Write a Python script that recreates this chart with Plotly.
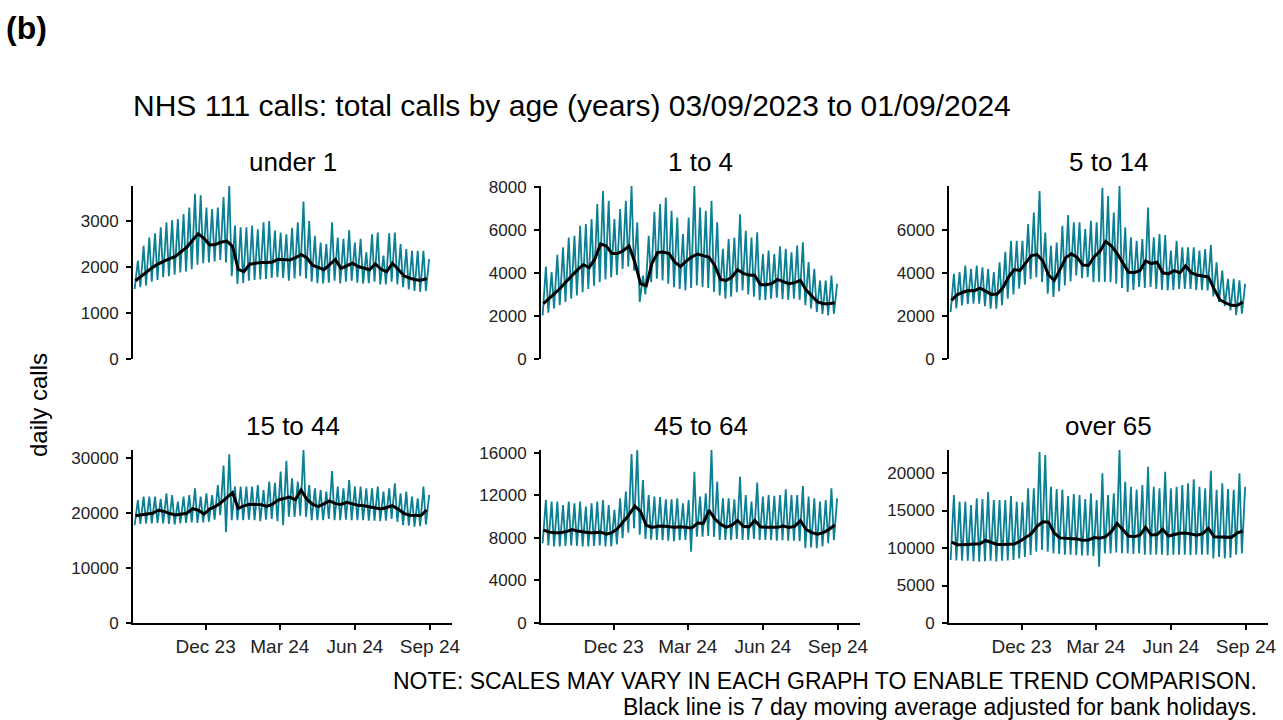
import pandas as pd
import plotly.graph_objects as go

# ---- dates (weekly anchor points across 03/09/2023 to 01/09/2024) ----
trough_dates = pd.date_range("2023-09-05", periods=52, freq="7D")   # mid-week lows
peak_dates = pd.date_range("2023-09-09", periods=52, freq="7D")     # weekend highs
ma_dates = pd.date_range("2023-09-06", periods=52, freq="7D")       # 7-day average

panel_titles = ["under 1", "1 to 4", "5 to 14", "15 to 44", "45 to 64", "over 65"]
x_tick_dates = ["2023-12-01", "2024-03-01", "2024-06-01", "2024-09-01"]
x_tick_text = ["Dec 23", "Mar 24", "Jun 24", "Sep 24"]

# ---- under 1 ----
under1_peak = [2140, 2460, 2640, 2730, 2860, 2970, 3020, 3040, 3150, 3290,
               3590, 3560, 3290, 3260, 3290, 3520, 3760, 2900, 2860, 2860,
               2900, 2820, 2970, 3000, 2790, 2750, 2710, 2850, 2970, 3420,
               3000, 2680, 2530, 2500, 2970, 2640, 2610, 2800, 2530, 2610,
               2320, 2710, 2750, 2250, 2730, 2750, 2500, 2390, 2350, 2350,
               2350, 2170]
under1_trough = [1520, 1560, 1600, 1680, 1720, 1780, 1800, 1830, 1880, 1900,
                 1950, 2050, 2080, 2100, 2120, 2150, 2100, 1800, 1630, 1650,
                 1700, 1720, 1730, 1740, 1760, 1780, 1760, 1700, 1750, 1800,
                 1750, 1680, 1650, 1640, 1660, 1700, 1640, 1680, 1700, 1660,
                 1640, 1650, 1680, 1620, 1620, 1680, 1620, 1560, 1510, 1480,
                 1460, 1480]
under1_ma = [1700, 1800, 1890, 1990, 2070, 2130, 2180, 2230, 2330, 2430,
             2580, 2720, 2620, 2480, 2490, 2540, 2560, 2450, 1950, 1900,
             2060, 2080, 2100, 2100, 2110, 2170, 2160, 2150, 2200, 2270,
             2200, 2040, 1990, 1940, 2050, 2160, 1970, 2030, 2080, 2010,
             1970, 1940, 2070, 1950, 1900, 2080, 1950, 1810, 1760, 1720,
             1710, 1750]

# ---- 1 to 4 ----
age1_4_peak = [4300, 4040, 4840, 5190, 5650, 5730, 6190, 6270, 6500, 7200,
               7810, 7350, 6500, 6970, 7350, 8040, 6350, 3880, 5730, 6840,
               7200, 7500, 6890, 6580, 5810, 6580, 8040, 7040, 6890, 7350,
               6350, 5120, 5580, 5650, 6730, 5960, 5650, 5890, 4880, 5040,
               4880, 5240, 5120, 4960, 5270, 5420, 4500, 4190, 3650, 3650,
               3880, 3500]
age1_4_trough = [2030, 2150, 2350, 2500, 2650, 2800, 2950, 3100, 3250, 3400,
                 3570, 3700, 3800, 3900, 4190, 4300, 4100, 2650, 3000, 3570,
                 3730, 3650, 3500, 3340, 3250, 3190, 3300, 3420, 3350, 3300,
                 3110, 2950, 2800, 2900, 3100, 3190, 3000, 2900, 2730, 2750,
                 2800, 2850, 2780, 2750, 2800, 2750, 2500, 2350, 2190, 2100,
                 2030, 2100]
age1_4_ma = [2570, 2800, 3050, 3300, 3600, 3900, 4150, 4380, 4250, 4650,
             5350, 5250, 4900, 4900, 5040, 5250, 4500, 3500, 3400, 4450,
             4950, 4970, 4900, 4500, 4300, 4550, 4750, 4880, 4820, 4730,
             4350, 3700, 3650, 3810, 4150, 3980, 3900, 3880, 3450, 3450,
             3500, 3700, 3600, 3500, 3550, 3650, 3200, 2900, 2650, 2570,
             2570, 2610]

# ---- 5 to 14 ----
age5_14_peak = [3950, 4030, 4340, 4180, 4340, 4260, 4180, 4030, 4490, 4980,
                5490, 5490, 5490, 6260, 6800, 7800, 5870, 5260, 5410, 6180,
                6680, 6340, 6340, 6030, 6410, 6340, 7950, 7570, 6800, 8030,
                6110, 5650, 5490, 5570, 7030, 5650, 5800, 5750, 5030, 5490,
                5180, 5180, 5180, 5030, 5100, 5290, 4490, 4110, 3720, 3720,
                3650, 3490]
age5_14_trough = [2180, 2350, 2490, 2550, 2570, 2570, 2450, 2340, 2340, 2500,
                  2800, 3000, 3260, 3450, 3720, 3800, 3570, 3030, 2880, 3150,
                  3410, 3600, 3880, 3750, 3800, 3570, 3570, 3570, 3570, 3500,
                  3300, 3110, 3200, 3340, 3300, 3340, 3250, 3200, 3180, 3200,
                  3250, 3250, 3250, 3200, 3200, 3180, 2900, 2650, 2450, 2260,
                  2030, 2100]
age5_14_ma = [2720, 2980, 3100, 3180, 3170, 3290, 3150, 3000, 3020, 3300,
              3800, 4150, 4110, 4450, 4800, 4850, 4550, 3900, 3650, 4150,
              4700, 4880, 4720, 4360, 4340, 4750, 5000, 5450, 5250, 4900,
              4450, 4030, 4020, 4100, 4550, 4430, 4490, 4000, 3950, 4100,
              4000, 4320, 4000, 3900, 3850, 3800, 3250, 2750, 2600, 2490,
              2480, 2640]

# ---- 15 to 44 ----
age15_44_peak = [22360, 22970, 22970, 22970, 22550, 23580, 23270, 22060, 22970, 23270,
                 24480, 22970, 23580, 23270, 25090, 28610, 30670, 24790, 24790, 24790,
                 24790, 25090, 24180, 25700, 25500, 27520, 29500, 26300, 25700, 31450,
                 25090, 24480, 24180, 23880, 27640, 24790, 24480, 26000, 24790, 24790,
                 24480, 24480, 24790, 23880, 24480, 25390, 23580, 23880, 22970, 22670,
                 24790, 23270]
age15_44_trough = [17800, 18000, 18100, 18100, 18200, 18100, 18000, 17900, 18100, 18200,
                   18300, 18200, 18300, 18400, 18800, 19600, 16500, 18700, 18700, 18700,
                   18800, 18700, 18500, 18800, 18900, 18500, 17800, 19300, 19300, 19500,
                   19300, 18700, 18700, 18700, 18900, 18700, 18700, 18800, 18700, 18700,
                   18700, 18600, 18600, 18500, 18600, 18900, 18400, 17800, 17700, 17500,
                   17600, 17900]
age15_44_ma = [19500, 19700, 19800, 19950, 20500, 20300, 19900, 19650, 19800, 19950,
               20800, 20500, 19800, 20700, 21200, 21900, 22800, 23700, 20850, 21300,
               21580, 21550, 21520, 21200, 21600, 22360, 22600, 22900, 22400, 24180,
               22500, 21600, 21150, 21600, 22180, 21700, 21550, 21940, 21600, 21390,
               21300, 21150, 21000, 20730, 21000, 21330, 20700, 19940, 19600, 19520,
               19550, 20550]

# ---- 45 to 64 ----
age45_64_peak = [11580, 11420, 11420, 11100, 11420, 11260, 11420, 10950, 11260, 11420,
                 11580, 11100, 10640, 11730, 12360, 15900, 16280, 13460, 12050, 11890,
                 11850, 11640, 11640, 11730, 11260, 11580, 14240, 11890, 12200, 16280,
                 13300, 11730, 11730, 11640, 13770, 12050, 11420, 13210, 11890, 12050,
                 11960, 12050, 12580, 12050, 12050, 12890, 11890, 11730, 11420, 11580,
                 12670, 11730]
age45_64_trough = [7500, 7300, 7200, 7200, 7250, 7300, 7250, 7200, 7200, 7250,
                   7300, 7200, 7200, 7400, 7970, 8500, 8910, 8300, 7900, 7850,
                   7810, 7800, 7750, 7700, 7800, 7810, 6710, 8120, 8120, 8200,
                   8100, 7810, 7810, 7810, 7900, 7810, 7810, 7900, 7810, 7810,
                   7810, 7750, 7800, 7750, 7750, 7700, 7030, 7100, 7030, 7200,
                   7500, 7800]
age45_64_ma = [8750, 8550, 8500, 8500, 8600, 8800, 8650, 8550, 8500, 8500,
               8550, 8350, 8500, 8900, 9500, 10200, 11000, 10500, 9200, 9000,
               9100, 9120, 9050, 9000, 9050, 9000, 8950, 9400, 9380, 10600,
               9800, 9300, 9000, 9200, 9650, 9100, 9050, 9650, 9050, 9000,
               9000, 9000, 9130, 9000, 9100, 9630, 8800, 8500, 8350, 8500,
               8800, 9220]

# ---- over 65 ----
over65_peak = [17070, 16180, 16200, 15730, 16620, 16530, 17510, 16400, 16400, 16400,
               16930, 16180, 16090, 17960, 17960, 22840, 22400, 18180, 17870, 17780,
               16930, 17200, 17070, 16530, 17290, 16400, 19960, 17070, 17290, 23070,
               18840, 18180, 17780, 18400, 20840, 18180, 17960, 20180, 17960, 18180,
               18400, 18620, 19160, 18180, 17960, 20310, 17780, 18620, 17870, 17780,
               19960, 18180]
over65_trough = [8400, 8350, 8300, 8300, 8250, 8180, 8250, 8300, 8200, 8300,
                 8350, 8400, 8620, 8800, 9070, 9500, 9730, 9500, 9290, 9200,
                 9100, 9100, 9050, 9000, 9000, 8900, 7510, 9290, 9290, 9400,
                 9300, 9290, 9200, 9290, 9100, 9100, 9100, 9100, 9000, 9100,
                 9100, 9100, 9050, 9100, 9100, 9100, 8620, 8800, 8620, 8700,
                 9100, 9290]
over65_ma = [10800, 10450, 10420, 10480, 10500, 10560, 11000, 10700, 10480, 10480,
             10500, 10520, 10900, 11400, 11900, 12900, 13500, 13450, 12000, 11350,
             11300, 11250, 11200, 11050, 11070, 11400, 11300, 11510, 12180, 13290,
             12400, 11600, 11500, 11700, 12760, 11730, 11800, 12490, 11600, 11800,
             11960, 12000, 11850, 11700, 11900, 12620, 11510, 11450, 11420, 11420,
             12000, 12270]

y_ticks = [
    [0, 1000, 2000, 3000],
    [0, 2000, 4000, 6000, 8000],
    [0, 2000, 4000, 6000],
    [0, 10000, 20000, 30000],
    [0, 4000, 8000, 12000, 16000],
    [0, 5000, 10000, 15000, 20000],
]

peaks = [under1_peak, age1_4_peak, age5_14_peak, age15_44_peak, age45_64_peak, over65_peak]
troughs = [under1_trough, age1_4_trough, age5_14_trough, age15_44_trough, age45_64_trough, over65_trough]
mas = [under1_ma, age1_4_ma, age5_14_ma, age15_44_ma, age45_64_ma, over65_ma]
for arr in peaks + troughs + mas:
    assert len(arr) == 52, len(arr)

TEAL = "#0b7f93"
FONT = "Liberation Sans, Arial, sans-serif"
W, H = 1283, 720

col_px = [(133, 452), (541, 860), (949, 1268)]
row_px = [(186, 359), (450, 623)]

fig = go.Figure()
annotations = []

for i in range(6):
    r, c = divmod(i, 3)
    ax = "" if i == 0 else str(i + 1)
    # interleave mid-week lows and weekend highs
    xs, ys = [], []
    for k in range(52):
        xs += [trough_dates[k], peak_dates[k]]
        ys += [troughs[i][k], peaks[i][k]]
    fig.add_trace(go.Scatter(x=xs, y=ys, mode="lines",
                             line=dict(color=TEAL, width=1.8),
                             xaxis="x" + ax, yaxis="y" + ax, showlegend=False))
    fig.add_trace(go.Scatter(x=ma_dates, y=mas[i], mode="lines",
                             line=dict(color="black", width=3),
                             xaxis="x" + ax, yaxis="y" + ax, showlegend=False))
    ymax = max(max(peaks[i]), max(troughs[i]), max(mas[i]))
    x0, x1 = col_px[c]
    ytop, ybot = row_px[r]
    bottom = (r == 1)
    fig.update_layout(**{
        "xaxis" + ax: dict(
            domain=[x0 / W, x1 / W], anchor="y" + ax,
            range=["2023-09-03", "2024-09-28"], type="date",
            showgrid=False, zeroline=False, automargin=False,
            showline=bottom, linecolor="black", linewidth=2,
            ticks="outside" if bottom else "", ticklen=5, tickwidth=2, tickcolor="black",
            showticklabels=bottom,
            tickvals=x_tick_dates, ticktext=x_tick_text,
            tickfont=dict(family=FONT, size=19, color="#222222"),
        ),
        "yaxis" + ax: dict(
            domain=[1 - ybot / H, 1 - ytop / H], anchor="x" + ax,
            range=[0, ymax], showgrid=False, zeroline=False, automargin=False,
            showline=True, linecolor="black", linewidth=2,
            ticks="outside", ticklen=5, tickwidth=2, tickcolor="black",
            ticklabelstandoff=4,
            tickvals=y_ticks[i], ticktext=[str(v) for v in y_ticks[i]],
            tickfont=dict(family=FONT, size=17, color="#222222"),
        ),
    })
    annotations.append(dict(text=panel_titles[i], x=(x0 + x1) / 2 / W,
                            y=1 - (ytop - 24) / H, xref="paper", yref="paper",
                            xanchor="center", yanchor="middle", showarrow=False,
                            font=dict(family=FONT, size=26, color="black")))

annotations += [
    dict(text="<b>(b)</b>", x=4 / W, y=1 - 28 / H, xref="paper", yref="paper",
         xanchor="left", yanchor="middle", showarrow=False,
         font=dict(family=FONT, size=32, color="black")),
    dict(text="NHS 111 calls: total calls by age (years) 03/09/2023 to 01/09/2024",
         x=131 / W, y=1 - 105 / H, xref="paper", yref="paper",
         xanchor="left", yanchor="middle", showarrow=False,
         font=dict(family=FONT, size=30, color="black")),
    dict(text="daily calls", x=38 / W, y=1 - 405 / H, xref="paper", yref="paper",
         xanchor="center", yanchor="middle", showarrow=False, textangle=-90,
         font=dict(family=FONT, size=24, color="black")),
    dict(text="NOTE: SCALES MAY VARY IN EACH GRAPH TO ENABLE TREND COMPARISON.",
         x=1259 / W, y=1 - 681 / H, xref="paper", yref="paper",
         xanchor="right", yanchor="middle", showarrow=False,
         font=dict(family=FONT, size=23, color="black")),
    dict(text="Black line is 7 day moving average adjusted for bank holidays.",
         x=1259 / W, y=1 - 707 / H, xref="paper", yref="paper",
         xanchor="right", yanchor="middle", showarrow=False,
         font=dict(family=FONT, size=23, color="black")),
]

fig.update_layout(width=W, height=H,
                  margin=dict(l=0, r=0, t=0, b=0, pad=0, autoexpand=False),
                  paper_bgcolor="white", plot_bgcolor="white",
                  annotations=annotations, showlegend=False)

# remove the browser's default 8px body margin so the figure sits at the page origin
fig.write_html("out.html", config={"displayModeBar": False},
               post_script="document.body.style.margin='0px';")
